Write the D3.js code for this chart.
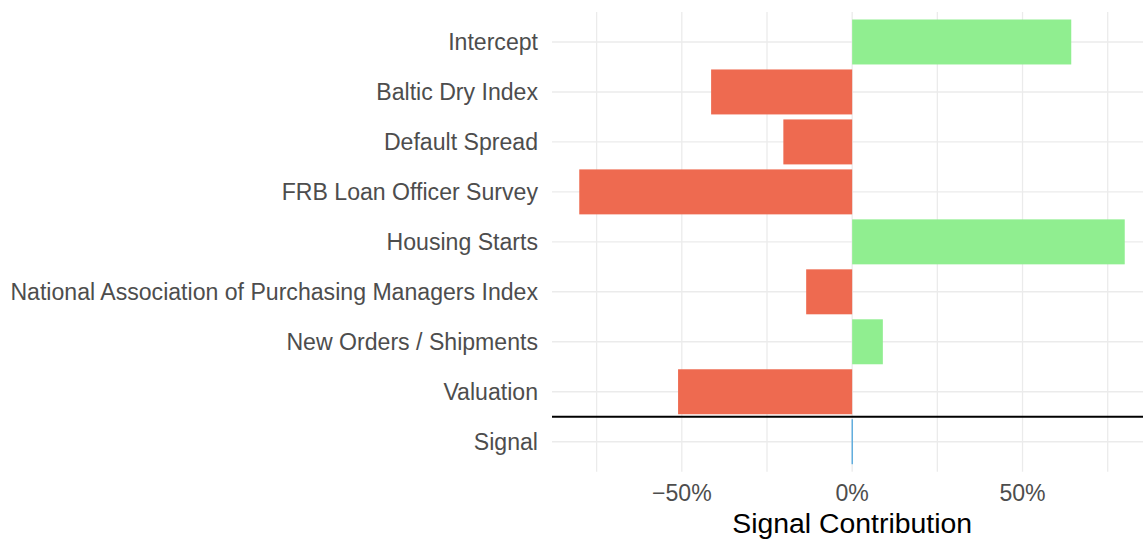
<!DOCTYPE html>
<html>
<head>
<meta charset="utf-8">
<script src="https://cdn.jsdelivr.net/npm/d3@7"></script>
<style>
  html, body { margin: 0; padding: 0; background: #fff; }
  svg { display: block; }
</style>
</head>
<body>
<svg id="chart" width="1143" height="540"></svg>
<script>
// ---- data ----
const categories = [
  "Intercept",
  "Baltic Dry Index",
  "Default Spread",
  "FRB Loan Officer Survey",
  "Housing Starts",
  "National Association of Purchasing Managers Index",
  "New Orders / Shipments",
  "Valuation",
  "Signal"
];
const contributions = [0.643, -0.414, -0.202, -0.801, 0.800, -0.135, 0.090, -0.511, 0.0];
const xTickValues = [-0.5, 0, 0.5];
const xTickLabels = ["\u221250%", "0%", "50%"];
const xMinorValues = [-0.75, -0.25, 0.25, 0.75];
const xTitle = "Signal Contribution";

// ---- layout ----
const svg = d3.select("#chart");
const panel = { left: 552, right: 1152, top: 12, bottom: 471.7 };
const fontFamily = "'Liberation Sans', Arial, Helvetica, sans-serif";

const x = d3.scaleLinear().domain([-0.881, 0.880]).range([panel.left, panel.right]);
// ggplot-style discrete axis: 0.6 unit expansion on each side
const step = (panel.bottom - panel.top) / (categories.length - 1 + 1.2);
const y = d3.scalePoint().domain(categories)
  .range([panel.top + 0.6 * step, panel.bottom - 0.6 * step]);
const yc = c => y(c);
const barH = 0.9 * step;

const grid = svg.append("g");
categories.forEach(c => {
  grid.append("line")
    .attr("x1", panel.left).attr("x2", 1143)
    .attr("y1", yc(c)).attr("y2", yc(c))
    .attr("stroke", "#ebebeb").attr("stroke-width", 1.4);
});
xMinorValues.concat(xTickValues).forEach(v => {
  grid.append("line")
    .attr("x1", x(v)).attr("x2", x(v))
    .attr("y1", panel.top).attr("y2", panel.bottom)
    .attr("stroke", "#ebebeb").attr("stroke-width", 1.3);
});

// bars
const data = categories.map((c, i) => ({ cat: c, val: contributions[i] }));
svg.append("g").selectAll("rect")
  .data(data.filter(d => d.cat !== "Signal"))
  .join("rect")
  .attr("x", d => Math.min(x(0), x(d.val)))
  .attr("width", d => Math.abs(x(d.val) - x(0)))
  .attr("y", d => yc(d.cat) - barH / 2)
  .attr("height", barH)
  .attr("fill", d => d.val >= 0 ? "#90EE90" : "#EE6A50");

// signal bar (zero width, drawn as a thin blue outline)
const sig = data.find(d => d.cat === "Signal");
svg.append("rect")
  .attr("x", Math.min(x(0), x(sig.val)) - 0.5)
  .attr("width", Math.max(1, Math.abs(x(sig.val) - x(0))))
  .attr("y", yc(sig.cat) - barH / 2)
  .attr("height", barH)
  .attr("fill", "#1f8fd6");

// separator line
svg.append("line")
  .attr("x1", panel.left).attr("x2", 1143)
  .attr("y1", yc("Valuation") + step / 2).attr("y2", yc("Valuation") + step / 2)
  .attr("stroke", "#000").attr("stroke-width", 2);

// y axis labels
svg.append("g").selectAll("text")
  .data(categories)
  .join("text")
  .attr("x", 538)
  .attr("y", d => yc(d))
  .attr("dy", "0.36em")
  .attr("text-anchor", "end")
  .attr("font-family", fontFamily)
  .attr("font-size", 23.1)
  .attr("fill", "#4d4d4d")
  .text(d => d);

// x axis labels
svg.append("g").selectAll("text")
  .data(xTickValues)
  .join("text")
  .attr("x", d => x(d))
  .attr("y", 501)
  .attr("text-anchor", "middle")
  .attr("font-family", fontFamily)
  .attr("font-size", 23.1)
  .attr("fill", "#4d4d4d")
  .text((d, i) => xTickLabels[i]);

// x title
svg.append("text")
  .attr("x", x(0))
  .attr("y", 533)
  .attr("text-anchor", "middle")
  .attr("font-family", fontFamily)
  .attr("font-size", 28.4)
  .attr("fill", "#000")
  .text(xTitle);
</script>
</body>
</html>
